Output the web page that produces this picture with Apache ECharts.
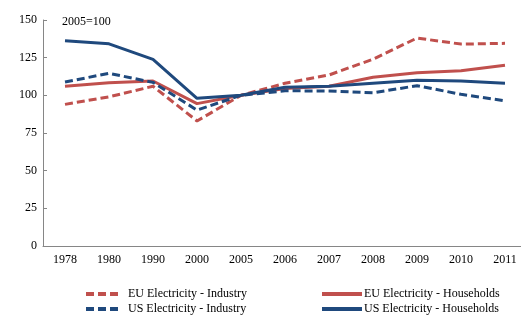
<!DOCTYPE html>
<html>
<head>
<meta charset="utf-8">
<script src="https://cdn.jsdelivr.net/npm/echarts@6/dist/echarts.min.js"></script>
<style>
  html, body { margin: 0; padding: 0; background: #fff; overflow: hidden; }
  /* the original plot runs a few pixels past the right edge, so the canvas is wider than the window */
  #chart { width: 527px; height: 318px; }
</style>
</head>
<body>
<div id="chart"></div>
<script>
const years = ['1978', '1980', '1990', '2000', '2005', '2006', '2007', '2008', '2009', '2010', '2011']
const euIndustry = [94, 99, 106, 83, 100, 108, 113.5, 124, 138, 134, 134.5]
const euHouseholds = [106, 108.4, 109.5, 94.5, 100, 104.6, 106, 112, 115, 116.3, 120]
const usIndustry = [108.8, 114.6, 108.6, 90.2, 100, 103, 102.9, 101.7, 106.4, 100.7, 96.4]
const usHouseholds = [136.2, 134.2, 123.9, 98, 100, 105.3, 106, 108, 110, 109.5, 108]

const red = '#c0504d'
const blue = '#1f497d'
const font = 'Liberation Serif'

const chart = echarts.init(document.getElementById('chart'))

function line(name, data, color, dashed) {
  return {
    name,
    type: 'line',
    data,
    symbol: 'none',
    lineStyle: {
      color,
      width: 3,
      type: dashed ? [8, 4] : 'solid',
    },
    itemStyle: { color },
  }
}

// legend text padding nudges the label-to-icon gap like the original
const legendBase = {
  orient: 'vertical',
  top: 288,
  itemHeight: 14,
  itemGap: 3,
  padding: 0,
  itemStyle: { opacity: 0 },
  lineStyle: { width: 4 },
}

chart.setOption({
  animation: false,
  textStyle: { fontFamily: font },
  grid: { left: 43, right: 0, top: 20, bottom: 72 },
  graphic: [
    {
      type: 'text',
      left: 62,
      top: 16,
      style: { text: '2005=100', font: '12px "Liberation Serif"', fill: '#000' },
    },
  ],
  legend: [
    {
      ...legendBase,
      data: ['EU Electricity - Industry', 'US Electricity - Industry'],
      left: 84,
      itemWidth: 32,
      textStyle: { fontFamily: font, fontSize: 12, color: '#000', padding: [0, 0, 0, 5] },
    },
    {
      ...legendBase,
      data: ['EU Electricity - Households', 'US Electricity - Households'],
      left: 320,
      itemWidth: 40,
      textStyle: { fontFamily: font, fontSize: 12, color: '#000', padding: [0, 0, 0, -3] },
    },
  ],
  xAxis: {
    type: 'category',
    data: years,
    boundaryGap: true,
    axisLine: { lineStyle: { color: '#868686', width: 1 } },
    axisTick: { inside: true, length: 4, lineStyle: { color: '#868686' } },
    axisLabel: { color: '#000', fontFamily: font, fontSize: 12, margin: 8 },
  },
  yAxis: {
    type: 'value',
    min: 0,
    max: 150,
    interval: 25,
    axisLine: { show: true, lineStyle: { color: '#868686', width: 1 } },
    axisTick: { show: true, inside: true, length: 4, lineStyle: { color: '#868686' } },
    axisLabel: { color: '#000', fontFamily: font, fontSize: 12, margin: 6 },
    splitLine: { show: false },
  },
  series: [
    line('EU Electricity - Industry', euIndustry, red, true),
    line('EU Electricity - Households', euHouseholds, red, false),
    line('US Electricity - Industry', usIndustry, blue, true),
    line('US Electricity - Households', usHouseholds, blue, false),
  ],
})
</script>
</body>
</html>
